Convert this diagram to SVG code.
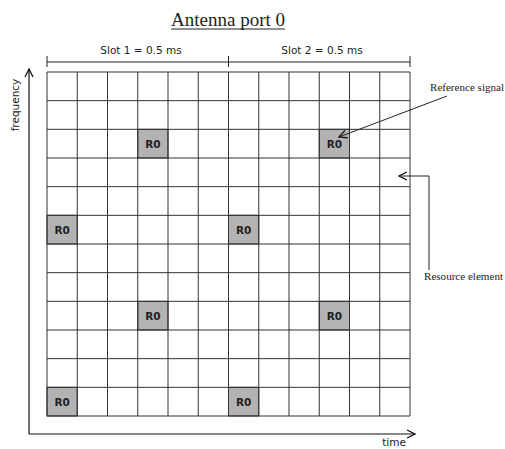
<svg xmlns="http://www.w3.org/2000/svg" width="505" height="449" viewBox="0 0 505 449">
<style>
.grid{stroke:#333;stroke-width:1;fill:none}
.rs{fill:#b3b3b3;stroke:#333;stroke-width:1}
.r0{font-family:"DejaVu Sans","Liberation Sans",sans-serif;font-weight:bold;font-size:10.5px;fill:#222;text-anchor:middle}
.sans{font-family:"DejaVu Sans","Liberation Sans",sans-serif;font-size:10.5px;fill:#222}
.serif{font-family:"Liberation Serif",serif;fill:#222}
.ln{stroke:#111;stroke-width:1.2;fill:none}
.thin{stroke:#222;stroke-width:1;fill:none}
</style>
<defs>
<marker id="open" markerWidth="10" markerHeight="10" refX="9" refY="5" orient="auto" markerUnits="userSpaceOnUse">
<path d="M1,1 L9,5 L1,9" fill="none" stroke="#111" stroke-width="1.3"/>
</marker>
</defs>
<rect width="505" height="449" fill="#fff"/>
<g id="title">
<text class="serif" x="228" y="26" font-size="18" text-anchor="middle" textLength="114" lengthAdjust="spacingAndGlyphs">Antenna port 0</text>
<line x1="171" y1="29" x2="285" y2="29" stroke="#222" stroke-width="1"/>
</g>
<g id="slots">
<line class="thin" x1="47" y1="62" x2="410" y2="62"/>
<line class="thin" x1="47" y1="56" x2="47" y2="67"/>
<line class="thin" x1="228.5" y1="56" x2="228.5" y2="67"/>
<line class="thin" x1="410" y1="56" x2="410" y2="67"/>
<text class="sans" x="141" y="54" text-anchor="middle">Slot 1 = 0.5 ms</text>
<text class="sans" x="322" y="54" text-anchor="middle">Slot 2 = 0.5 ms</text>
</g>
<g id="resource-grid">
<rect class="rs" x="137.75" y="129.3" width="30.25" height="28.7"/>
<rect class="rs" x="319.25" y="129.3" width="30.25" height="28.7"/>
<rect class="rs" x="47" y="215.3" width="30.25" height="28.7"/>
<rect class="rs" x="228.5" y="215.3" width="30.25" height="28.7"/>
<rect class="rs" x="137.75" y="301.3" width="30.25" height="28.7"/>
<rect class="rs" x="319.25" y="301.3" width="30.25" height="28.7"/>
<rect class="rs" x="47" y="387.3" width="30.25" height="28.7"/>
<rect class="rs" x="228.5" y="387.3" width="30.25" height="28.7"/>
<path class="grid" d="M47,72 H410 V416 H47 Z
M77.25,72 V416 M107.5,72 V416 M137.75,72 V416 M168,72 V416 M198.25,72 V416 M228.5,72 V416 M258.75,72 V416 M289,72 V416 M319.25,72 V416 M349.5,72 V416 M379.75,72 V416
M47,100.67 H410 M47,129.33 H410 M47,158 H410 M47,186.67 H410 M47,215.33 H410 M47,244 H410 M47,272.67 H410 M47,301.33 H410 M47,330 H410 M47,358.67 H410 M47,387.33 H410"/>
<text class="r0" x="152.9" y="148">R0</text>
<text class="r0" x="334.4" y="148">R0</text>
<text class="r0" x="62.1" y="234">R0</text>
<text class="r0" x="243.6" y="234">R0</text>
<text class="r0" x="152.9" y="320">R0</text>
<text class="r0" x="334.4" y="320">R0</text>
<text class="r0" x="62.1" y="406">R0</text>
<text class="r0" x="243.6" y="406">R0</text>
</g>
<g id="axes">
<line class="ln" x1="29" y1="434" x2="29" y2="69" marker-end="url(#open)"/>
<line class="ln" x1="29" y1="434" x2="415" y2="434" marker-end="url(#open)"/>
<text class="sans" x="0" y="0" transform="translate(19,105) rotate(-90)" text-anchor="middle">frequency</text>
<text class="sans" x="394" y="446" text-anchor="middle">time</text>
</g>
<g id="connectors">
<line class="thin" x1="447" y1="96" x2="339" y2="137" marker-end="url(#open)"/>
<polyline class="thin" points="429,270 429,176 399,176" marker-end="url(#open)"/>
</g>
<g id="labels">
<text class="serif" x="430" y="91" font-size="11" textLength="74" lengthAdjust="spacingAndGlyphs">Reference signal</text>
<text class="serif" x="424" y="280" font-size="11" textLength="79" lengthAdjust="spacingAndGlyphs">Resource element</text>
</g>
</svg>
